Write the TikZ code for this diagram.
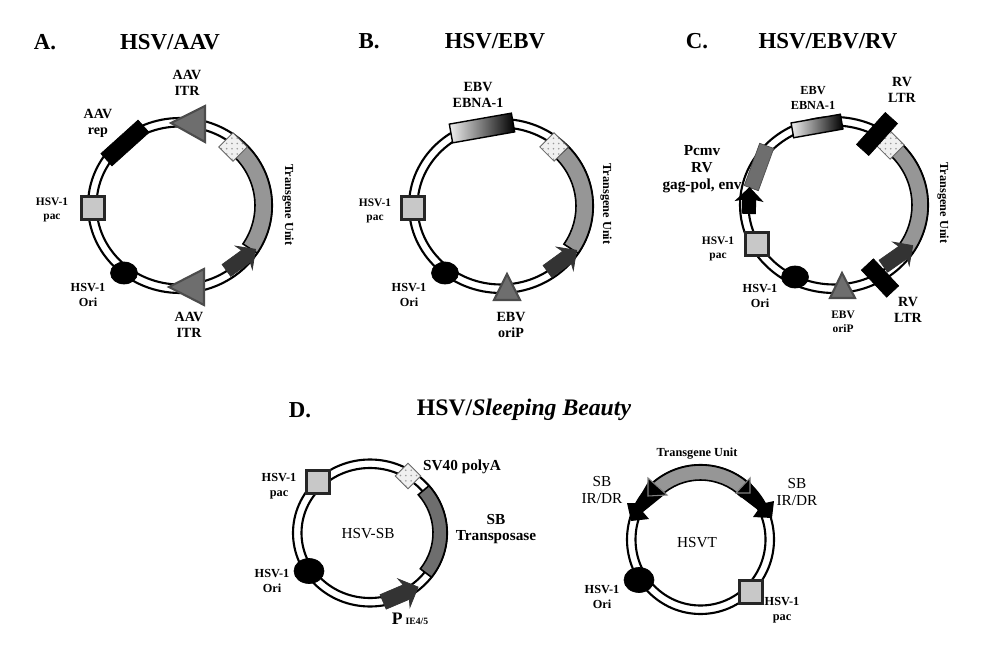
\documentclass[tikz,border=0pt]{standalone}
\usepackage{fontspec}
\setmainfont{Liberation Serif}
\usepackage{tikz}
\usetikzlibrary{shapes.geometric,shapes.arrows,calc,patterns}
\definecolor{cPac}{HTML}{C8C8C8}
\definecolor{cBand}{HTML}{969696}
\definecolor{cTri}{HTML}{6E6E6E}
\definecolor{cDark}{HTML}{333333}
\newcommand{\ringpair}[3]{
  \draw[line width=1.2pt,fill=white] (#1) ellipse[x radius=#2,y radius=#3];
  \draw[line width=1.2pt,fill=white] (#1) ellipse[x radius=#2-8.5,y radius=#3-8.5];
}
\newcommand{\ringband}[7]{
  \filldraw[draw=black,line width=0.9pt,fill=#7] (#1) ++(#5:#2 and #3)
    arc[start angle=#5,end angle=#6,x radius=#2,y radius=#3]
    -- ($(#1)+(#6:#2-#4 and #3-#4)$)
    arc[start angle=#6,end angle=#5,x radius=#2-#4,y radius=#3-#4] -- cycle;
}
\begin{document}
\begin{tikzpicture}[
  x=0.02cm,y=0.02cm,
  pacbox/.style={rectangle,draw=black!85,fill=cPac,line width=1.2pt,minimum size=0.46cm,inner sep=0},
  polybox/.style={rectangle,draw=black!60,preaction={fill=gray!12},pattern=dots,pattern color=gray!80,line width=0.5pt,minimum size=0.4cm,inner sep=0,rotate=45},
  oriblob/.style={ellipse,fill=black,draw=black,minimum width=0.54cm,minimum height=0.44cm,inner sep=0},
  barbox/.style={rectangle,fill=black,draw=black,minimum height=0.33cm,inner sep=0},
  ebnabox/.style={rectangle,draw=black,line width=0.8pt,left color=gray!12,right color=black,inner sep=0},
  promarrow/.style={single arrow,fill=cDark,draw=cDark,inner sep=0,text height=0.28cm,text depth=0pt,
    minimum height=0.72cm,single arrow head extend=0.14cm,single arrow head indent=0.05cm},
  itrtri/.style={fill=cTri,draw=black!70,line width=1.2pt,line join=miter},
  titlelbl/.style={font=\fontsize{13}{15}\selectfont\bfseries,inner sep=0},
  lblS/.style={font=\fontsize{6.5}{8}\selectfont\bfseries,align=center,inner sep=0},
  lblT/.style={font=\fontsize{7}{8.5}\selectfont\bfseries,align=center,inner sep=0},
  lblM/.style={font=\fontsize{8}{9}\selectfont\bfseries,align=center,inner sep=0},
  lblL/.style={font=\fontsize{8.7}{9.6}\selectfont\bfseries,align=center,inner sep=0},
  lblR/.style={font=\fontsize{8.7}{9.6}\selectfont,align=center,inner sep=0},
]
\useasboundingbox (0,0) rectangle (1000,660);
\coordinate (cA) at (180,454.5);
\coordinate (cB) at (501,454);
\coordinate (cC) at (834,455);
\coordinate (cD) at (370,127);
\coordinate (cE) at (700.5,120.5);
% Panel A
\node[titlelbl] (headA) at (45,618) {A.};
\node[titlelbl] (titleA) at (170,618) {HSV/AAV};
\ringpair{cA}{92}{87.5}
\ringband{cA}{92}{87.5}{17}{43}{-33}{cBand}
\node[promarrow,rotate=36] (promA) at (238,398) {};
\node[pacbox] (pacA) at (93,452) {};
\node[barbox,minimum width=1cm,rotate=42] (repA) at (125,517) {};
\node[polybox] (polyA) at (233,513) {};
\node[oriblob] (oriA) at (124,387) {};
\draw[itrtri] (205,554) -- (205,518) -- (171,537) -- cycle;
\draw[itrtri] (204,391) -- (204,355) -- (169,373) -- cycle;
\node[lblM] (itrAt) at (187,577) {AAV\\ITR};
\node[lblM] (repAl) at (98,537) {AAV\\rep};
\node[lblS] (pacAl) at (52,450) {HSV-1\\pac};
\node[lblT] (oriAl) at (88,365) {HSV-1\\Ori};
\node[lblM] (itrAb) at (189,335) {AAV\\ITR};
\node[lblT,rotate=-90] (unitA) at (288,455) {Transgene Unit};
% Panel B
\node[titlelbl] (headB) at (369,619) {B.};
\node[titlelbl] (titleB) at (495,619) {HSV/EBV};
\ringpair{cB}{92}{87}
\ringband{cB}{92}{87}{17}{43}{-33}{cBand}
\node[promarrow,rotate=36] (promB) at (559,397) {};
\node[pacbox] (pacB) at (413,452) {};
\node[ebnabox,minimum width=1.26cm,minimum height=0.38cm,rotate=10] (ebnaB) at (482,532) {};
\node[polybox] (polyB) at (554,513) {};
\node[oriblob] (oriB) at (445,387) {};
\draw[itrtri] (494,360) -- (520,360) -- (507,386) -- cycle;
\node[lblM] (ebnaBl) at (478,565) {EBV\\EBNA-1};
\node[lblS] (pacBl) at (375,449) {HSV-1\\pac};
\node[lblT] (oriBl) at (409,365) {HSV-1\\Ori};
\node[lblM] (oripBl) at (511,335) {EBV\\oriP};
\node[lblT,rotate=-90] (unitB) at (606,456) {Transgene Unit};
% Panel C
\node[titlelbl] (headC) at (697,619) {C.};
\node[titlelbl] (titleC) at (828,619) {HSV/EBV/RV};
\ringpair{cC}{94}{88}
\ringband{cC}{94}{88}{16}{43}{-33}{cBand}
\node[promarrow,rotate=35] (promC) at (895,402) {};
\node[pacbox] (pacC) at (757,416) {};
\node[ebnabox,minimum width=1cm,minimum height=0.3cm,rotate=10] (ebnaC) at (817,534) {};
\node[polybox] (polyC) at (890,515) {};
\node[oriblob] (oriC) at (795,383) {};
\node[barbox,minimum width=0.74cm,rotate=-47] (ltrCb) at (880,382) {};
\node[barbox,minimum width=0.86cm,rotate=48] (ltrCt) at (877,526) {};
\node[rectangle,fill=cTri,draw=black!70,minimum width=0.9cm,minimum height=0.3cm,inner sep=0,rotate=70] (gagC) at (759,493) {};
\node[single arrow,fill=black,inner sep=0,text height=0.27cm,text depth=0pt,minimum height=0.54cm,
  single arrow head extend=0.15cm,single arrow head indent=0.03cm,rotate=88] (cmvC) at (749,456) {};
\draw[itrtri] (830,362) -- (855,362) -- (842,387) -- cycle;
\node[lblM] (ltrCtl) at (902,570) {RV\\LTR};
\node[lblT] (ebnaCl) at (813,562) {EBV\\EBNA-1};
\node[lblL] (gagCl) at (702,491) {Pcmv\\RV\\gag-pol, env};
\node[lblS] (pacCl) at (718,411) {HSV-1\\pac};
\node[lblT] (oriCl) at (760,364) {HSV-1\\Ori};
\node[lblS] (oripCl) at (843,338) {EBV\\oriP};
\node[lblM] (ltrCbl) at (908,350) {RV\\LTR};
\node[lblT,rotate=-90] (unitC) at (943,457) {Transgene Unit};
% Panel D
\node[titlelbl] (headD) at (300,250) {D.};
\node[titlelbl,font=\fontsize{13.5}{15}\selectfont\bfseries] (titleD) at (524,250) {HSV/\textit{Sleeping Beauty}};
% HSV-SB
\ringpair{cD}{77}{73.5}
\ringband{cD}{77}{73.5}{14}{40}{-37}{cTri}
\node[promarrow,minimum height=0.76cm,text height=0.3cm,single arrow head extend=0.15cm,rotate=23] (promD) at (397,64) {};
\node[pacbox] (pacD) at (318,178) {};
\node[polybox,minimum size=0.36cm] (polyD) at (408,184) {};
\node[oriblob,minimum width=0.6cm,minimum height=0.5cm] (oriD) at (309,89) {};
\node[lblL] (polyDl) at (462,193) {SV40 polyA};
\node[lblL] (sbDl) at (496,131) {SB\\Transposase};
\node[lblR] (nameD) at (368,126) {HSV-SB};
\node[lblT] (pacDl) at (279,174) {HSV-1\\pac};
\node[lblT] (oriDl) at (272,79) {HSV-1\\Ori};
\node[inner sep=0,font=\bfseries] (promDl) at (410,41) {\fontsize{10}{12}\selectfont P\,\fontsize{5.5}{7}\selectfont IE4/5};
% HSVT
\ringpair{cE}{73.5}{74.5}
\ringband{cE}{73.5}{74.5}{15}{134}{46}{cBand}
\fill (648,178) -- (636,157) -- (627,157) -- (631,139) -- (649,141) -- (643,148) -- (664,165) -- cycle;
\fill (750,178) -- (765,157) -- (774,159) -- (772,142) -- (753,143) -- (758,150) -- (737,166) -- cycle;
\draw[fill=black,draw=gray,line width=0.6pt] (648,182) -- (667,165) -- (648,164) -- cycle;
\draw[fill=black,draw=gray,line width=0.6pt] (750,182) -- (750,167) -- (736,167) -- cycle;
\node[pacbox] (pacE) at (751,68) {};
\node[oriblob,minimum width=0.6cm,minimum height=0.5cm] (oriE) at (639,80) {};
\node[lblT] (unitE) at (697,206) {Transgene Unit};
\node[lblR] (irEl) at (602,170) {SB\\IR/DR};
\node[lblR] (irEr) at (797,168) {SB\\IR/DR};
\node[lblR] (nameE) at (697,117) {HSVT};
\node[lblT] (pacEl) at (782,50) {HSV-1\\pac};
\node[lblT] (oriEl) at (602,63) {HSV-1\\Ori};
\end{tikzpicture}
\end{document}
